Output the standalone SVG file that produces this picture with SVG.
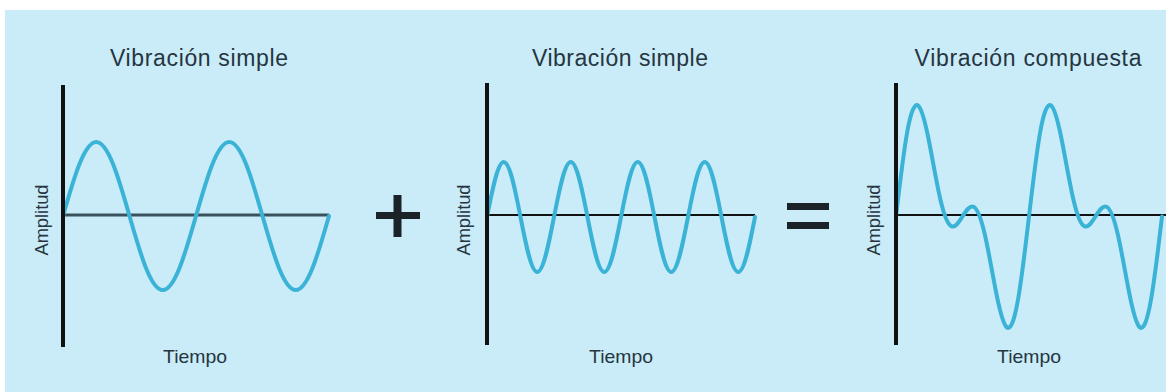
<svg xmlns="http://www.w3.org/2000/svg" width="1166" height="392" viewBox="0 0 1166 392">
<style>
.bg{fill:#c9ecf8}
.title{font-family:"Liberation Sans",Arial,sans-serif;font-size:23px;fill:#26353f;text-anchor:middle}
.lbl{font-family:"Liberation Sans",Arial,sans-serif;font-size:18.5px;fill:#26353f;text-anchor:middle}
.vaxis{stroke:#111;stroke-width:4;fill:none}
.haxis{stroke:#111;stroke-width:2;fill:none}
.wave{stroke:#3bb3d6;stroke-width:4;fill:none;stroke-linejoin:round;stroke-linecap:round}
.op{fill:#1b2329}
</style>
<rect x="0" y="0" width="1166" height="392" fill="#ffffff"/>
<rect class="bg" x="5" y="10" width="1161" height="382"/>

<g id="panel1">
  <text class="title" x="199" y="66" textLength="178" lengthAdjust="spacing">Vibración simple</text>
  <text class="lbl" transform="translate(48,220) rotate(-90)" x="0" y="0" textLength="71" lengthAdjust="spacingAndGlyphs">Amplitud</text>
  <text class="lbl" x="195" y="363" textLength="64" lengthAdjust="spacingAndGlyphs">Tiempo</text>
  <line x1="63" y1="215" x2="329" y2="215" stroke="#3a525e" stroke-width="3"/>
  <path class="wave" d="M63,216 c10.84,-37.91 21.22,-74 33.25,-74 c12.03,0 22.41,36.09 33.25,74 c10.84,37.91 21.22,74 33.25,74 c12.03,0 22.41,-36.09 33.25,-74 c10.84,-37.91 21.22,-74 33.25,-74 c12.03,0 22.41,36.09 33.25,74 c10.84,37.91 21.22,74 33.25,74 c12.03,0 22.41,-36.09 33.25,-74"/>
  <line class="vaxis" x1="63" y1="85" x2="63" y2="347"/>
</g>

<g id="plus">
  <rect class="op" x="393.5" y="195" width="8" height="42"/>
  <rect class="op" x="376" y="212" width="44" height="7"/>
</g>

<g id="panel2">
  <text class="title" x="620" y="66" textLength="176" lengthAdjust="spacing">Vibración simple</text>
  <text class="lbl" transform="translate(470,220) rotate(-90)" x="0" y="0" textLength="71" lengthAdjust="spacingAndGlyphs">Amplitud</text>
  <text class="lbl" x="621" y="363" textLength="64" lengthAdjust="spacingAndGlyphs">Tiempo</text>
  <line class="haxis" x1="487" y1="215" x2="755" y2="215"/>
  <path class="wave" d="M487,217 c5.46,-28.18 10.69,-55 16.75,-55 c6.06,0 11.29,26.82 16.75,55 c5.46,28.18 10.69,55 16.75,55 c6.06,0 11.29,-26.82 16.75,-55 c5.46,-28.18 10.69,-55 16.75,-55 c6.06,0 11.29,26.82 16.75,55 c5.46,28.18 10.69,55 16.75,55 c6.06,0 11.29,-26.82 16.75,-55 c5.46,-28.18 10.69,-55 16.75,-55 c6.06,0 11.29,26.82 16.75,55 c5.46,28.18 10.69,55 16.75,55 c6.06,0 11.29,-26.82 16.75,-55 c5.46,-28.18 10.69,-55 16.75,-55 c6.06,0 11.29,26.82 16.75,55 c5.46,28.18 10.69,55 16.75,55 c6.06,0 11.29,-26.82 16.75,-55"/>
  <line class="vaxis" x1="487" y1="83" x2="487" y2="345"/>
</g>

<g id="equals">
  <rect class="op" x="787" y="203" width="42" height="7"/>
  <rect class="op" x="787" y="222" width="42" height="7"/>
</g>

<g id="panel3">
  <text class="title" x="1028" y="66" textLength="227" lengthAdjust="spacing">Vibración compuesta</text>
  <text class="lbl" transform="translate(880,220) rotate(-90)" x="0" y="0" textLength="71" lengthAdjust="spacingAndGlyphs">Amplitud</text>
  <text class="lbl" x="1029" y="363" textLength="64" lengthAdjust="spacingAndGlyphs">Tiempo</text>
  <line class="haxis" x1="896" y1="215" x2="1166" y2="215"/>
  <path class="wave" d="M896,216.5 c3.694,-31.76 7.389,-63.16 11.083,-83.77 c3.694,-20.61 7.389,-30.05 11.083,-27.08 c3.694,2.970 7.389,18 11.083,36.85 c3.694,18.85 7.389,40.8 11.083,56.68 c3.694,15.88 7.389,25.33 11.083,27.09 c3.694,1.76 7.389,-3.84 11.083,-9.77 c3.694,-5.93 7.389,-11.53 11.083,-9.77 c3.694,1.76 7.389,11.21 11.083,27.09 c3.694,15.88 7.389,37.83 11.083,56.68 c3.694,18.85 7.389,33.88 11.083,36.85 c3.694,2.97 7.389,-6.47 11.083,-27.08 c3.694,-20.61 7.389,-52.01 11.083,-83.77 c3.694,-31.76 7.389,-63.16 11.083,-83.77 c3.694,-20.61 7.389,-30.05 11.083,-27.08 c3.694,2.97 7.389,18 11.083,36.85 c3.694,18.85 7.389,40.8 11.083,56.68 c3.694,15.88 7.389,25.33 11.083,27.09 c3.694,1.76 7.389,-3.84 11.083,-9.77 c3.694,-5.93 7.389,-11.53 11.083,-9.77 c3.694,1.76 7.389,11.21 11.083,27.09 c3.694,15.88 7.389,37.83 11.083,56.68 c3.694,18.85 7.389,33.88 11.083,36.85 c3.694,2.97 7.389,-6.47 11.083,-27.08 c3.694,-20.61 7.389,-52.01 11.083,-83.77"/>
  <line class="vaxis" x1="896" y1="83" x2="896" y2="345"/>
</g>
</svg>
